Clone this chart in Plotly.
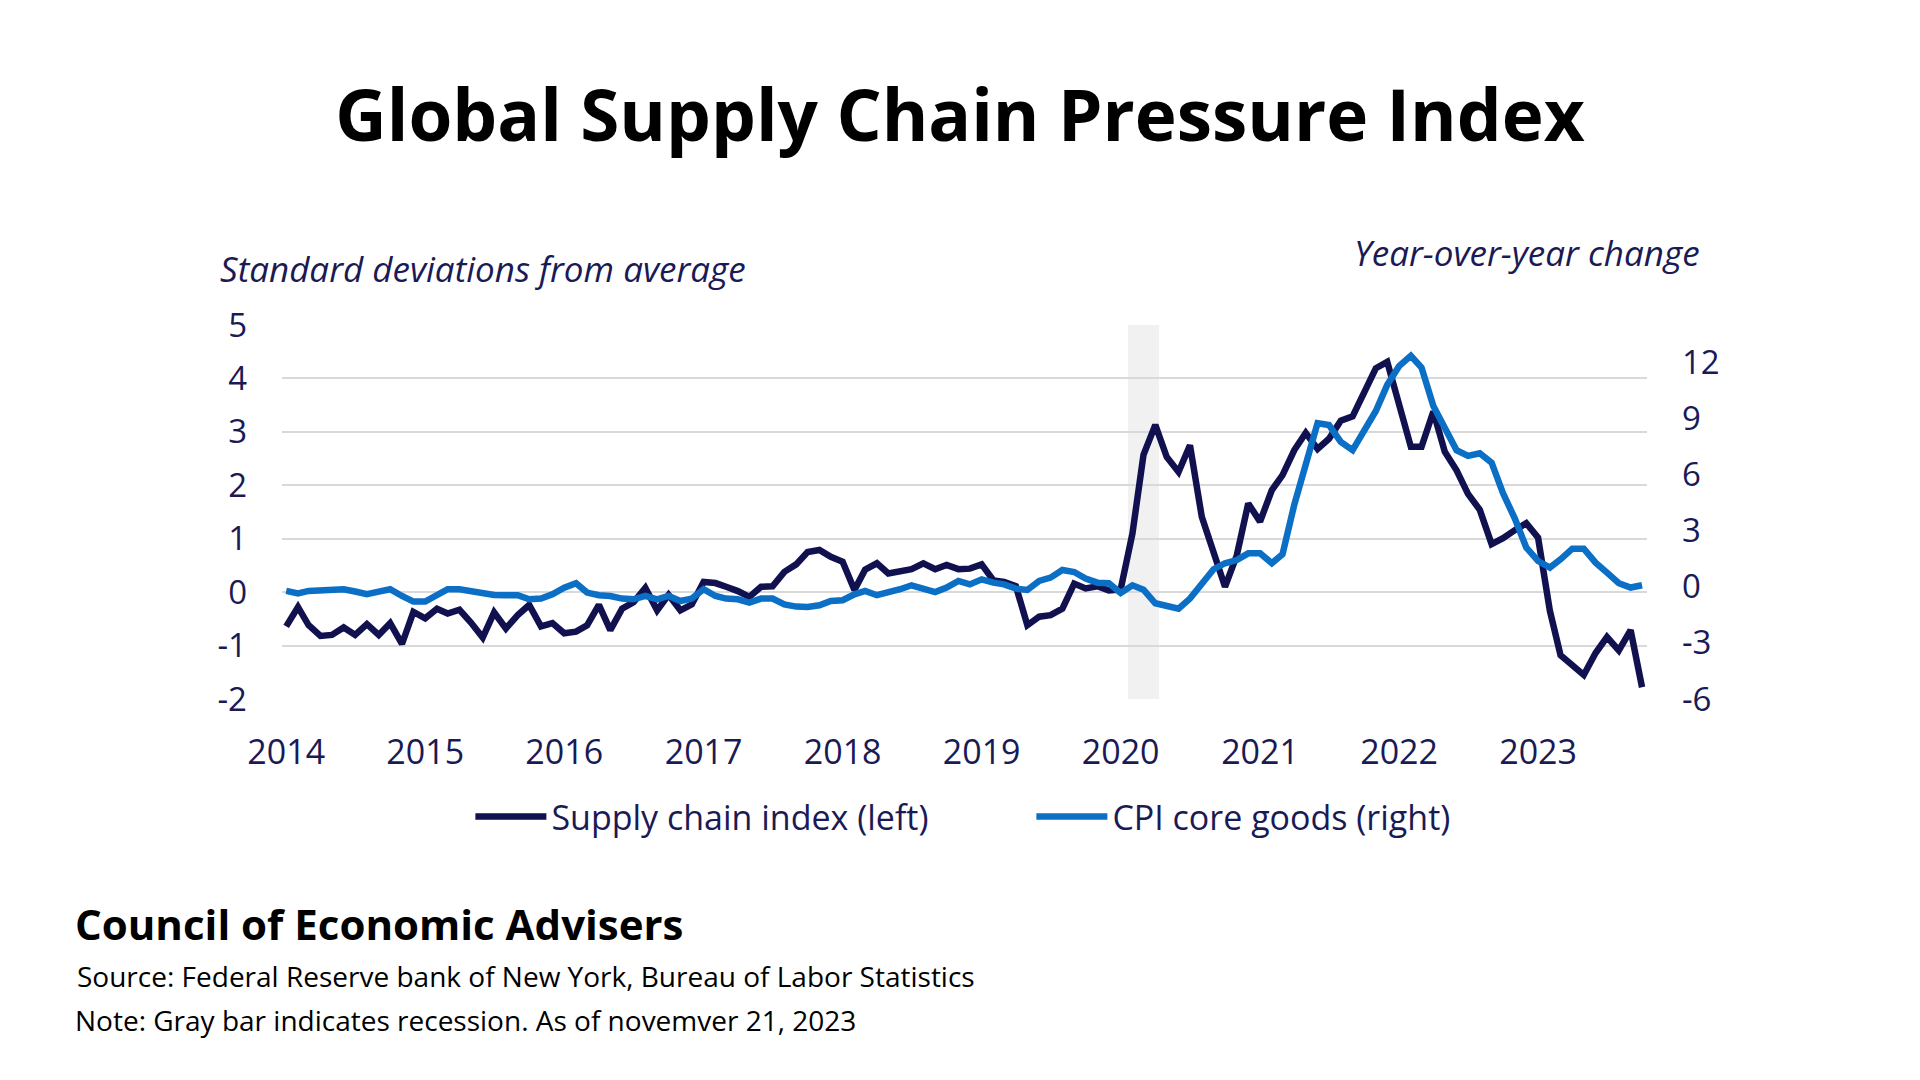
import plotly.graph_objects as go
import pandas as pd

# Monthly observations, Jan 2014 - Oct 2023
months = pd.date_range("2014-01-01", "2023-10-01", freq="MS")

supply_chain_index = [
    -0.64, -0.28, -0.62, -0.82, -0.80, -0.66, -0.80, -0.60, -0.80, -0.58,
    -0.97, -0.37, -0.49, -0.31, -0.40, -0.33, -0.57, -0.85, -0.38, -0.68,
    -0.43, -0.24, -0.64, -0.58, -0.77, -0.74, -0.62, -0.24, -0.71, -0.31,
    -0.19, 0.08, -0.34, -0.05, -0.34, -0.23, 0.19, 0.17, 0.10, 0.02,
    -0.09, 0.10, 0.11, 0.38, 0.52, 0.75, 0.79, 0.66, 0.57, 0.04,
    0.42, 0.54, 0.35, 0.40, 0.43, 0.54, 0.43, 0.51, 0.43, 0.44,
    0.52, 0.22, 0.19, 0.11, -0.62, -0.46, -0.43, -0.31, 0.16, 0.07,
    0.11, 0.03, 0.05, 1.10, 2.57, 3.13, 2.53, 2.25, 2.75, 1.41,
    0.72, 0.10, 0.69, 1.66, 1.32, 1.91, 2.19, 2.66, 2.98, 2.68,
    2.87, 3.21, 3.29, 3.75, 4.19, 4.31, 3.53, 2.72, 2.72, 3.38,
    2.63, 2.28, 1.84, 1.54, 0.90, 1.01, 1.16, 1.29, 1.02, -0.35,
    -1.18, -1.37, -1.55, -1.14, -0.84, -1.09, -0.71, -1.78,
]

cpi_core_goods = [
    -0.22, -0.35, -0.22, -0.20, -0.10, -0.13, -0.25, -0.40, -0.26, -0.13,
    -0.49, -0.79, -0.79, -0.45, -0.13, -0.13, -0.26, -0.36, -0.44, -0.45,
    -0.45, -0.67, -0.63, -0.40, -0.05, 0.19, -0.31, -0.45, -0.49, -0.63,
    -0.67, -0.49, -0.67, -0.49, -0.76, -0.63, -0.13, -0.49, -0.63, -0.67,
    -0.84, -0.63, -0.63, -0.94, -1.06, -1.08, -0.99, -0.76, -0.72, -0.40,
    -0.22, -0.45, -0.31, -0.13, 0.08, -0.13, -0.28, -0.04, 0.31, 0.13,
    0.40, 0.22, 0.13, -0.10, -0.17, 0.31, 0.49, 0.90, 0.79, 0.44,
    0.22, 0.19, -0.33, 0.08, -0.15, -0.88, -1.03, -1.17, -0.63, 0.22,
    0.94, 1.26, 1.43, 1.79, 1.79, 1.26, 1.74, 4.40, 6.50, 8.75,
    8.65, 7.75, 7.31, 8.40, 9.40, 10.80, 11.80, 12.35, 11.72, 9.67,
    8.55, 7.30, 7.00, 7.14, 6.64, 5.00, 3.65, 2.10, 1.38, 1.03,
    1.47, 2.04, 2.04, 1.29, 0.76, 0.19, -0.04, 0.08,
]

year_ticks = ["2014", "2015", "2016", "2017", "2018", "2019", "2020", "2021", "2022", "2023"]
left_ticks = [-2, -1, 0, 1, 2, 3, 4, 5]
left_tick_text = ["-2", "-1", "0", "1", "2", "3", "4", "5"]
right_ticks = [-6, -3, 0, 3, 6, 9, 12]
right_tick_text = ["-6", "-3", "0", "3", "6", "9", "12"]

recession_start = "2020-01-20"
recession_end = "2020-04-11"

DARK = "#111150"
BLUE = "#0B6FC6"
NAVY_TXT = "#1a1a55"
FONT = "Open Sans"

fig = go.Figure()
fig.add_trace(go.Scatter(
    x=months, y=supply_chain_index, mode="lines", name="Supply chain index (left)",
    line=dict(color=DARK, width=6.5, shape="linear"), yaxis="y",
))
fig.add_trace(go.Scatter(
    x=months, y=cpi_core_goods, mode="lines", name="CPI core goods (right)",
    line=dict(color=BLUE, width=6.5, shape="linear"), yaxis="y2",
))

fig.add_shape(type="rect", xref="x", yref="paper", x0=recession_start, x1=recession_end,
              y0=0, y1=1, fillcolor="#f1f1f1", line=dict(width=0), layer="below")

fig.update_layout(
    template="none",
    width=1920, height=1080,
    paper_bgcolor="white", plot_bgcolor="white",
    margin=dict(l=282, r=273, t=325, b=381),
    font=dict(family=FONT, color=NAVY_TXT),
    title=dict(text="<b>Global Supply Chain Pressure Index</b>", x=0.5, xref="container",
               xanchor="center", y=1 - 116 / 1080, yref="container", yanchor="middle",
               font=dict(family=FONT, size=71, color="black")),
    xaxis=dict(
        type="date", range=["2013-12-21", "2023-10-14"],
        tickvals=[f"{y}-01-01" for y in year_ticks], ticktext=year_ticks,
        showgrid=False, zeroline=False, showline=False, ticks="",
        tickfont=dict(size=34, color=NAVY_TXT), ticklabelstandoff=30,
    ),
    yaxis=dict(
        range=[-2, 5], tickvals=left_ticks, ticktext=left_tick_text,
        showgrid=True, gridcolor="#d9d9d9", gridwidth=2, zeroline=False, showline=False,
        ticks="", tickfont=dict(size=33, color=NAVY_TXT), ticklabelstandoff=34,
    ),
    yaxis2=dict(
        range=[-6, 14], tickvals=right_ticks, ticktext=right_tick_text, overlaying="y",
        side="right", showgrid=False, zeroline=False, showline=False, ticks="",
        tickfont=dict(size=33, color=NAVY_TXT), ticklabelstandoff=34,
    ),
    showlegend=True,
    legend=dict(orientation="h", x=0.549, xanchor="center", y=-0.3155, yanchor="middle",
                font=dict(size=34, color=NAVY_TXT), itemwidth=71,
                entrywidth=475, entrywidthmode="pixels",
                bgcolor="rgba(0,0,0,0)"),
)

annotations = [
    dict(text="<i>Standard deviations from average</i>", x=-0.0469, y=1.152, xanchor="left",
         yanchor="middle", font=dict(size=35, color=NAVY_TXT)),
    dict(text="<i>Year-over-year change</i>", x=1.0403, y=1.195, xanchor="right",
         yanchor="middle", font=dict(size=35, color=NAVY_TXT)),
    dict(text="<b>Council of Economic Advisers</b>", x=-0.1531, y=-0.599, xanchor="left",
         yanchor="middle", font=dict(size=42, color="black")),
    dict(text="Source: Federal Reserve bank of New York, Bureau of Labor Statistics",
         x=-0.1516, y=-0.7406, xanchor="left", yanchor="middle",
         font=dict(size=28, color="black")),
    dict(text="Note: Gray bar indicates recession. As of novemver 21, 2023",
         x=-0.1531, y=-0.8583, xanchor="left", yanchor="middle",
         font=dict(size=28, color="black")),
]
for a in annotations:
    fig.add_annotation(xref="paper", yref="paper", showarrow=False, **a)

fig.write_html("out.html")
